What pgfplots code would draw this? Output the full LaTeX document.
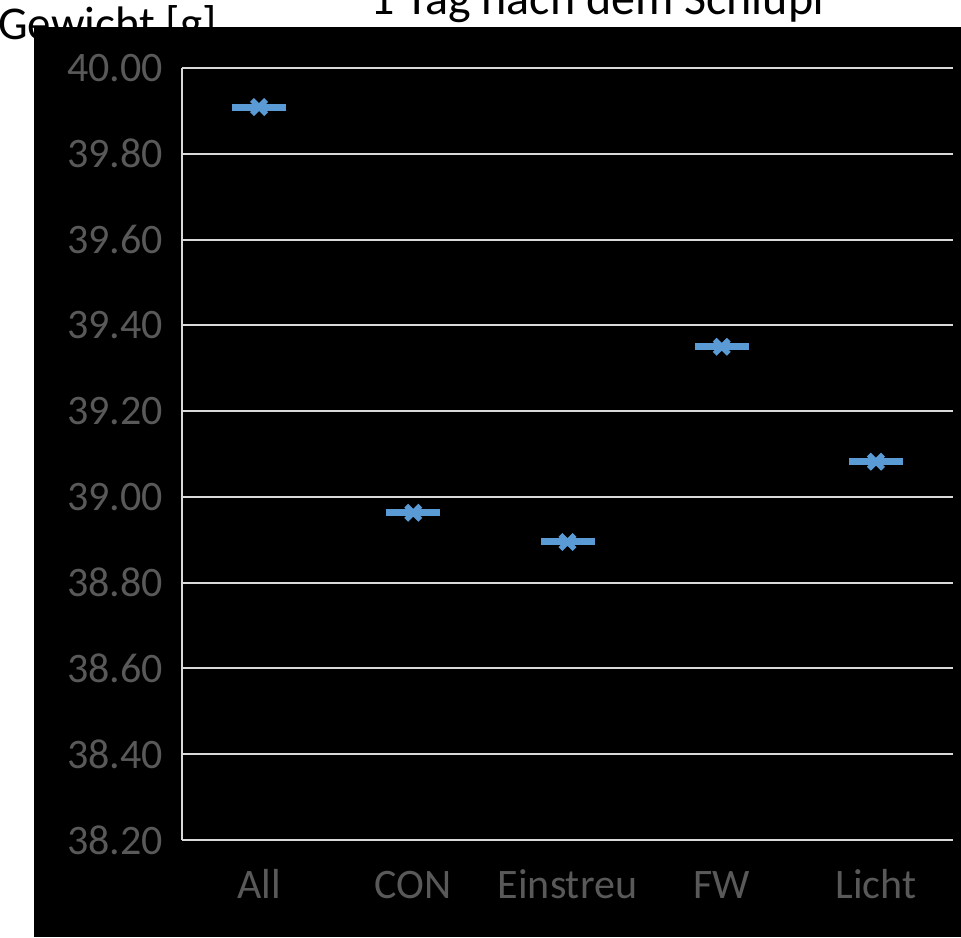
\documentclass[border=0pt]{standalone}
\usepackage{fontspec}
\setmainfont{Carlito}
\usepackage{pgfplots}
\pgfplotsset{compat=1.18}

\definecolor{serie}{HTML}{5B9BD5}
\definecolor{gridc}{HTML}{D9D9D9}
\definecolor{tickc}{HTML}{595959}

\begin{document}
\begin{tikzpicture}
\useasboundingbox (0pt,0pt) rectangle (961pt,937pt);
% Titel oben, halb abgeschnitten
\begin{pgfinterruptboundingbox}
\begin{scope}
\clip (0pt,0pt) rectangle (961pt,937pt);
\node[anchor=base, inner sep=0pt, font=\fontsize{48}{56}\selectfont] at (599pt,922pt) {1 Tag nach dem Schlupf};
\node[anchor=base west, inner sep=0pt, font=\fontsize{47}{56}\selectfont] at (-2pt,897pt) {Gewicht [g]};
\end{scope}
\end{pgfinterruptboundingbox}
\fill[black] (34pt,0pt) rectangle (961pt,910pt);

\begin{axis}[
    at={(182pt,97pt)}, anchor=south west,
    scale only axis,
    width=771pt, height=772pt,
    xmin=-0.5, xmax=4.5,
    ymin=38.2, ymax=40,
    ytick={38.2,38.4,38.6,38.8,39.0,39.2,39.4,39.6,39.8,40.0},
    /pgf/number format/fixed,
    /pgf/number format/fixed zerofill,
    /pgf/number format/precision=2,
    /pgf/number format/assume math mode=true,
    xtick=data,
    xticklabels={All,CON,Einstreu,FW,Licht},
    axis x line*=bottom, axis y line*=left,
    axis line style={gridc, line width=2pt, -},
    major tick length=0pt,
    ymajorgrids=true,
    grid style={gridc, line width=2pt},
    tick label style={font=\fontsize{42}{50}\selectfont, text=tickc, inner sep=0pt},
    xticklabel style={anchor=north, text height=31pt, text depth=10pt, yshift=-27pt},
    yticklabel style={anchor=east, xshift=-19pt},
    clip=false,
]
\addplot[only marks, mark=-, mark size=27pt, mark options={serie, line width=7pt}]
    coordinates {(0,39.909)(1,38.963)(2,38.895)(3,39.350)(4,39.082)};
\addplot[only marks, mark=x, mark size=10pt, mark options={serie, line width=5.5pt}]
    coordinates {(0,39.909)(1,38.963)(2,38.895)(3,39.350)(4,39.082)};
\end{axis}
\end{tikzpicture}
\end{document}
